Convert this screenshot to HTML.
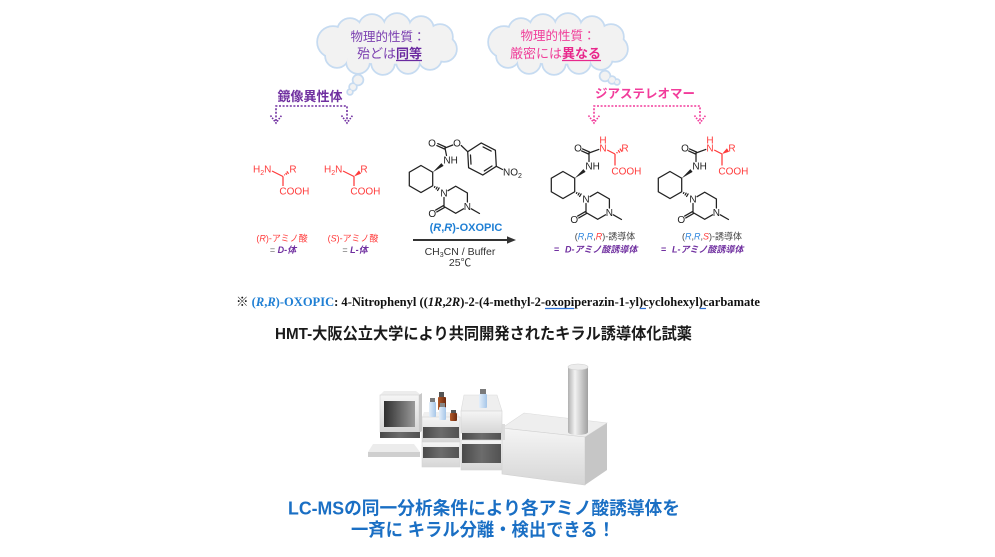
<!DOCTYPE html>
<html><head><meta charset="utf-8">
<style>
html,body{margin:0;padding:0;background:#fff;}
svg{display:block;}
text{font-family:"Liberation Sans","Noto Sans CJK JP",sans-serif;}
.sf{font-family:"Liberation Serif","Noto Serif CJK SC",serif;}
</style></head><body>
<svg width="995" height="557" viewBox="0 0 995 557" xmlns="http://www.w3.org/2000/svg">
<defs>
<g id="cl">
<ellipse cx="387" cy="44" rx="55" ry="20"/>
<circle cx="350" cy="31" r="12"/><circle cx="372" cy="28" r="13"/><circle cx="397" cy="27" r="13"/>
<circle cx="421" cy="29" r="12"/><circle cx="440" cy="37" r="12"/><circle cx="333" cy="42" r="15"/>
<circle cx="444" cy="49" r="12"/><circle cx="337" cy="56" r="11"/><circle cx="358" cy="62" r="11"/>
<circle cx="383" cy="63" r="11"/><circle cx="408" cy="62" r="11"/><circle cx="430" cy="58" r="11"/>
</g>
<linearGradient id="gF" x1="0" y1="0" x2="0" y2="1"><stop offset="0" stop-color="#f5f5f5"/><stop offset="1" stop-color="#d6d6d6"/></linearGradient>
<linearGradient id="gD" x1="0" y1="0" x2="1" y2="0"><stop offset="0" stop-color="#4a4a4a"/><stop offset="0.5" stop-color="#6c6c6c"/><stop offset="1" stop-color="#525252"/></linearGradient>
<linearGradient id="gS" x1="0" y1="0" x2="1" y2="0"><stop offset="0" stop-color="#2f2f2f"/><stop offset="1" stop-color="#9a9a9a"/></linearGradient>
<linearGradient id="gC" x1="0" y1="0" x2="1" y2="0"><stop offset="0" stop-color="#b0b0b0"/><stop offset="0.35" stop-color="#f2f2f2"/><stop offset="1" stop-color="#a0a0a0"/></linearGradient>
<linearGradient id="gBr" x1="0" y1="0" x2="1" y2="0"><stop offset="0" stop-color="#b25a2a"/><stop offset="1" stop-color="#6e2a0e"/></linearGradient>
<linearGradient id="gBl" x1="0" y1="0" x2="1" y2="0"><stop offset="0" stop-color="#e4effa"/><stop offset="1" stop-color="#a6c6e8"/></linearGradient>
</defs>

<!-- Clouds -->
<g stroke="#c6dbf1" stroke-width="3.5" fill="#c6dbf1">
<use href="#cl"/>
<use href="#cl" transform="translate(171,0)"/>
<circle cx="358" cy="80" r="4.5"/><circle cx="353" cy="87" r="3"/><circle cx="350" cy="92" r="2"/>
<circle cx="605" cy="76" r="4.5"/><circle cx="612" cy="80" r="3"/><circle cx="617" cy="82" r="2"/>
</g>
<g fill="#f2f2f2">
<use href="#cl"/>
<use href="#cl" transform="translate(171,0)"/>
<circle cx="358" cy="80" r="4.5"/><circle cx="353" cy="87" r="3"/><circle cx="350" cy="92" r="2"/>
<circle cx="605" cy="76" r="4.5"/><circle cx="612" cy="80" r="3"/><circle cx="617" cy="82" r="2"/>
</g>
<text x="388" y="41" text-anchor="middle" font-size="12.5" fill="#7b3fb0">物理的性質：</text>
<text x="357" y="58" font-size="13" fill="#7b3fb0">殆どは<tspan font-weight="bold" fill="#6a2aa0">同等</tspan></text>
<line x1="396" y1="60.5" x2="422" y2="60.5" stroke="#6a2aa0" stroke-width="1.2"/>
<text x="558" y="40" text-anchor="middle" font-size="12.5" fill="#f0409a">物理的性質：</text>
<text x="510" y="58" font-size="13" fill="#f0409a">厳密には<tspan font-weight="bold" fill="#e8288c">異なる</tspan></text>
<line x1="562" y1="60.5" x2="601" y2="60.5" stroke="#e8288c" stroke-width="1.2"/>

<!-- Bracket labels -->
<text x="310" y="101" text-anchor="middle" font-size="13" font-weight="bold" fill="#7030a0">鏡像異性体</text>
<text x="645" y="98" text-anchor="middle" font-size="12.5" font-weight="bold" fill="#f23c9b">ジアステレオマー</text>
<g fill="none" stroke-width="1.6" stroke-dasharray="2 1.6">
<path d="M276,121 V106 H347 V121" stroke="#7030a0"/>
<path d="M594,121 V106 H700 V121" stroke="#f23c9b"/>
</g>
<g fill="none" stroke-width="1.6" stroke-dasharray="1.6 1.2">
<polyline points="270.5,115.5 276,123 281.5,115.5" stroke="#7030a0"/>
<polyline points="341.5,115.5 347,123 352.5,115.5" stroke="#7030a0"/>
<polyline points="588.5,115.5 594,123 599.5,115.5" stroke="#f23c9b"/>
<polyline points="694.5,115.5 700,123 705.5,115.5" stroke="#f23c9b"/>
</g>

<!-- Amino acids -->
<g stroke="#ff3b3b" stroke-width="1.25" fill="none">
<line x1="272" y1="171" x2="283" y2="176.5"/>
<line x1="283" y1="176.5" x2="283" y2="186"/>
<line x1="284.9" y1="175.3" x2="284.3" y2="174.5"/>
<line x1="286.8" y1="174.6" x2="285.7" y2="172.9"/>
<line x1="288.6" y1="173.8" x2="286.9" y2="171.4"/>
<line x1="343" y1="171" x2="354" y2="176.5"/>
<line x1="354" y1="176.5" x2="354" y2="186"/>
</g>
<polygon fill="#ff3b3b" points="354,176.5 361.1,173.6 358.9,170.4"/>
<g font-size="10" fill="#ff3b3b">
<text x="253" y="172.6">H<tspan font-size="7" dy="2.5">2</tspan><tspan dy="-2.5">N</tspan></text>
<text x="293" y="172.6" text-anchor="middle">R</text>
<text x="279.4" y="194.6">COOH</text>
<text x="324" y="172.6">H<tspan font-size="7" dy="2.5">2</tspan><tspan dy="-2.5">N</tspan></text>
<text x="364" y="172.6" text-anchor="middle">R</text>
<text x="350.4" y="194.6">COOH</text>
</g>
<g font-size="9">
<text x="282" y="241.5" text-anchor="middle" fill="#ff3b3b">(<tspan font-style="italic">R</tspan>)-アミノ酸</text>
<text x="283" y="253" text-anchor="middle" fill="#666">= <tspan font-weight="bold" font-style="italic" fill="#7030a0">D-体</tspan></text>
<text x="353" y="241.5" text-anchor="middle" fill="#ff3b3b">(<tspan font-style="italic">S</tspan>)-アミノ酸</text>
<text x="355" y="253" text-anchor="middle" fill="#666">= <tspan font-weight="bold" font-style="italic" fill="#7030a0">L-体</tspan></text>
</g>

<!-- Reagent: common part -->
<g transform="translate(-142,-6)">
<g stroke="#222" stroke-width="1.25" fill="none" stroke-linecap="round">
<polygon points="563,171.5 574.7,178.25 574.7,191.75 563,198.5 551.3,191.75 551.3,178.25"/>
<polyline points="590,196.7 597.7,192.25 609.4,199 609.4,208"/>
<polyline points="605.5,214.8 597.7,219.25 586,212.5 586,203.5"/>
<line x1="613.3" y1="214.8" x2="621.5" y2="219.5"/>
<line x1="586.55" y1="213.45" x2="578.75" y2="217.95"/>
<line x1="585.45" y1="211.55" x2="577.65" y2="216.05"/>
<line x1="576.4" y1="193.4" x2="576.9" y2="192.5"/>
<line x1="578.1" y1="195" x2="579.1" y2="193.2"/>
<line x1="579.6" y1="196.5" x2="581.1" y2="193.9"/>
</g>
<polygon fill="#222" points="574.7,178.25 585.6,171.9 583.4,169.1"/>
<g font-size="10" fill="#222">
<text x="585.4" y="169.6">NH</text>
<text x="586" y="202.6" text-anchor="middle">N</text>
<text x="609.4" y="216.1" text-anchor="middle">N</text>
<text x="574.3" y="222.9" text-anchor="middle">O</text>
</g>
</g>
<!-- Reagent: specific -->
<g stroke="#222" stroke-width="1.25" fill="none" stroke-linecap="round">
<line x1="436.86" y1="145.6" x2="444.56" y2="149"/>
<line x1="437.74" y1="143.6" x2="445.44" y2="147"/>
<line x1="445" y1="148" x2="452.8" y2="145"/>
<line x1="445" y1="148" x2="446.5" y2="155.5"/>
<line x1="461.2" y1="145.5" x2="467.7" y2="151.7"/>
<polygon points="496.3,166.3 482.8,175 468.6,167.7 467.7,151.7 481.2,143 495.4,150.3"/>
<line x1="491.96" y1="165.97" x2="484.29" y2="170.93"/>
<line x1="471" y1="164.12" x2="470.49" y2="155.02"/>
<line x1="483.08" y1="146.89" x2="491.16" y2="151.04"/>
<line x1="496.3" y1="166.3" x2="502.5" y2="169.5"/>
</g>
<g font-size="10" fill="#222">
<text x="432" y="146.6" text-anchor="middle">O</text>
<text x="457" y="146.6" text-anchor="middle">O</text>
<text x="503" y="175.6">NO<tspan font-size="7" dy="2.5">2</tspan></text>
</g>

<!-- Arrow and conditions -->
<line x1="413" y1="240" x2="509" y2="240" stroke="#333" stroke-width="2"/>
<polygon points="516,240 507,236.3 507,243.7" fill="#333"/>
<text x="466" y="231" text-anchor="middle" font-size="11" font-weight="bold" fill="#1f7fd4">(<tspan font-style="italic">R</tspan>,<tspan font-style="italic">R</tspan>)-OXOPIC</text>
<text x="460" y="255" text-anchor="middle" font-size="10.5" fill="#333">CH<tspan font-size="7" dy="2">3</tspan><tspan dy="-2">CN / Buffer</tspan></text>
<text x="460" y="266" text-anchor="middle" font-size="10.5" fill="#333">25℃</text>

<!-- Product 1 -->
<g>
<g stroke="#222" stroke-width="1.25" fill="none" stroke-linecap="round">
<polygon points="563,171.5 574.7,178.25 574.7,191.75 563,198.5 551.3,191.75 551.3,178.25"/>
<polyline points="590,196.7 597.7,192.25 609.4,199 609.4,208"/>
<polyline points="605.5,214.8 597.7,219.25 586,212.5 586,203.5"/>
<line x1="613.3" y1="214.8" x2="621.5" y2="219.5"/>
<line x1="586.55" y1="213.45" x2="578.75" y2="217.95"/>
<line x1="585.45" y1="211.55" x2="577.65" y2="216.05"/>
<line x1="576.4" y1="193.4" x2="576.9" y2="192.5"/>
<line x1="578.1" y1="195" x2="579.1" y2="193.2"/>
<line x1="579.6" y1="196.5" x2="581.1" y2="193.9"/>
<line x1="581.64" y1="150.9" x2="588.54" y2="154"/>
<line x1="582.56" y1="148.9" x2="589.46" y2="152"/>
<line x1="589" y1="153" x2="589" y2="161.5"/>
<line x1="589" y1="153" x2="598.8" y2="149.4"/>
</g>
<g stroke="#ff3b3b" stroke-width="1.25" fill="none">
<line x1="607.2" y1="150" x2="615" y2="154"/>
<line x1="615" y1="154" x2="615" y2="165.5"/>
<line x1="617.4" y1="153.3" x2="616.6" y2="152.1"/>
<line x1="619.8" y1="152.6" x2="618.2" y2="150.2"/>
<line x1="621.9" y1="151.6" x2="619.9" y2="148.6"/>
</g>
<polygon fill="#222" points="574.7,178.25 585.6,171.9 583.4,169.1"/>
<g font-size="10" fill="#222">
<text x="585.4" y="169.6">NH</text>
<text x="586" y="202.6" text-anchor="middle">N</text>
<text x="609.4" y="216.1" text-anchor="middle">N</text>
<text x="574.3" y="222.9" text-anchor="middle">O</text>
<text x="578" y="151.6" text-anchor="middle">O</text>
</g>
<g font-size="10" fill="#ff3b3b">
<text x="603" y="143.6" text-anchor="middle">H</text>
<text x="603" y="151.6" text-anchor="middle">N</text>
<text x="625" y="151.6" text-anchor="middle">R</text>
<text x="611.4" y="174.6">COOH</text>
</g>
</g>
<!-- Product 2 -->
<g transform="translate(107,0)">
<g stroke="#222" stroke-width="1.25" fill="none" stroke-linecap="round">
<polygon points="563,171.5 574.7,178.25 574.7,191.75 563,198.5 551.3,191.75 551.3,178.25"/>
<polyline points="590,196.7 597.7,192.25 609.4,199 609.4,208"/>
<polyline points="605.5,214.8 597.7,219.25 586,212.5 586,203.5"/>
<line x1="613.3" y1="214.8" x2="621.5" y2="219.5"/>
<line x1="586.55" y1="213.45" x2="578.75" y2="217.95"/>
<line x1="585.45" y1="211.55" x2="577.65" y2="216.05"/>
<line x1="576.4" y1="193.4" x2="576.9" y2="192.5"/>
<line x1="578.1" y1="195" x2="579.1" y2="193.2"/>
<line x1="579.6" y1="196.5" x2="581.1" y2="193.9"/>
<line x1="581.64" y1="150.9" x2="588.54" y2="154"/>
<line x1="582.56" y1="148.9" x2="589.46" y2="152"/>
<line x1="589" y1="153" x2="589" y2="161.5"/>
<line x1="589" y1="153" x2="598.8" y2="149.4"/>
</g>
<g stroke="#ff3b3b" stroke-width="1.25" fill="none">
<line x1="607.2" y1="150" x2="615" y2="154"/>
<line x1="615" y1="154" x2="615" y2="165.5"/>
</g>
<polygon fill="#222" points="574.7,178.25 585.6,171.9 583.4,169.1"/>
<polygon fill="#ff3b3b" points="615,154 622.1,151.7 619.9,148.3"/>
<g font-size="10" fill="#222">
<text x="585.4" y="169.6">NH</text>
<text x="586" y="202.6" text-anchor="middle">N</text>
<text x="609.4" y="216.1" text-anchor="middle">N</text>
<text x="574.3" y="222.9" text-anchor="middle">O</text>
<text x="578" y="151.6" text-anchor="middle">O</text>
</g>
<g font-size="10" fill="#ff3b3b">
<text x="603" y="143.6" text-anchor="middle">H</text>
<text x="603" y="151.6" text-anchor="middle">N</text>
<text x="625" y="151.6" text-anchor="middle">R</text>
<text x="611.4" y="174.6">COOH</text>
</g>
</g>
<g font-size="9">
<text x="605" y="239.5" text-anchor="middle" fill="#444">(<tspan font-style="italic" fill="#2e86de">R</tspan>,<tspan font-style="italic" fill="#2e86de">R</tspan>,<tspan font-style="italic" fill="#ff3b3b">R</tspan>)-誘導体</text>
<text x="712" y="239.5" text-anchor="middle" fill="#444">(<tspan font-style="italic" fill="#2e86de">R</tspan>,<tspan font-style="italic" fill="#2e86de">R</tspan>,<tspan font-style="italic" fill="#ff3b3b">S</tspan>)-誘導体</text>
<g font-weight="bold" fill="#7030a0">
<text x="554" y="252.5">=</text>
<text x="565" y="252.5" font-style="italic">D-アミノ酸誘導体</text>
<text x="661" y="252.5">=</text>
<text x="672" y="252.5" font-style="italic">L-アミノ酸誘導体</text>
</g>
</g>

<!-- Footnote -->
<text class="sf" x="236" y="306" font-size="12.5" font-weight="bold" fill="#111" textLength="524" lengthAdjust="spacingAndGlyphs">※ <tspan fill="#1f7fd4">(<tspan font-style="italic">R</tspan>,<tspan font-style="italic">R</tspan>)-OXOPIC</tspan>: 4-Nitrophenyl ((<tspan font-style="italic">1R</tspan>,<tspan font-style="italic">2R</tspan>)-2-(4-methyl-2-oxopiperazin-1-yl)cyclohexyl)carbamate</text>
<g stroke="#2a6fd6" stroke-width="1.2">
<line x1="545" y1="308.5" x2="574" y2="308.5"/>
<line x1="640" y1="308.5" x2="646" y2="308.5"/>
<line x1="700" y1="308.5" x2="706" y2="308.5"/>
</g>

<!-- HMT line -->
<text x="275" y="339" font-size="16" font-weight="bold" fill="#1a1a1a" textLength="417" lengthAdjust="spacingAndGlyphs">HMT-大阪公立大学により共同開発されたキラル誘導体化試薬</text>

<!-- Instrument -->
<polygon points="502,428 524,413 607,423 585,437" fill="#eeeeee" stroke="#dcdcdc" stroke-width="0.6"/>
<polygon points="502,428 585,437 585,485 502,474" fill="url(#gF)" stroke="#d0d0d0" stroke-width="0.6"/>
<polygon points="585,437 607,423 607,470 585,485" fill="#c6c6c6"/>
<rect x="568" y="367" width="20" height="65" fill="url(#gC)"/>
<ellipse cx="578" cy="432" rx="10" ry="3" fill="url(#gC)"/>
<ellipse cx="578" cy="367" rx="10" ry="3" fill="#ececec" stroke="#cfcfcf" stroke-width="0.6"/>
<rect x="499" y="424" width="6" height="16" fill="#dcdcdc"/>
<polygon points="464,395 497,395 502,411 461,411" fill="#efefef" stroke="#dcdcdc" stroke-width="0.6"/>
<rect x="461" y="411" width="41" height="22" fill="url(#gF)" stroke="#d4d4d4" stroke-width="0.6"/>
<rect x="462" y="433" width="39" height="7" fill="url(#gD)"/>
<rect x="461" y="440" width="41" height="30" fill="url(#gF)" stroke="#d4d4d4" stroke-width="0.6"/>
<rect x="462" y="444" width="39" height="19" fill="url(#gD)"/>
<polygon points="424,412 457,412 460,417 422,417" fill="#f0f0f0"/>
<rect x="422" y="417" width="38" height="25" fill="url(#gF)" stroke="#d4d4d4" stroke-width="0.6"/>
<rect x="423" y="427" width="36" height="11" fill="url(#gD)"/>
<rect x="422" y="442" width="38" height="25" fill="url(#gF)" stroke="#d4d4d4" stroke-width="0.6"/>
<rect x="423" y="447" width="36" height="11" fill="url(#gD)"/>
<polygon points="384,391 416,391 421,395 380,395" fill="#ececec"/>
<rect x="380" y="395" width="39" height="37" fill="url(#gF)" stroke="#d4d4d4" stroke-width="0.6"/>
<polygon points="419,395 422,393 422,431 419,433" fill="#c8c8c8"/>
<rect x="384" y="401" width="31" height="26" fill="url(#gS)"/>
<rect x="380" y="432" width="40" height="6" fill="url(#gD)"/>
<polygon points="373,444 414,444 420,452 368,452" fill="#ececec"/>
<rect x="368" y="452" width="52" height="5" fill="#cfcfcf"/>
<!-- bottles -->
<rect x="430" y="398" width="5" height="4" fill="#7a7a7a"/>
<rect x="429" y="402" width="7" height="15" rx="1" fill="url(#gBl)"/>
<rect x="439" y="392" width="5" height="5" fill="#555"/>
<rect x="438" y="397" width="8" height="13" rx="1" fill="url(#gBr)"/>
<rect x="440" y="403" width="5" height="4" fill="#888"/>
<rect x="439" y="407" width="7" height="13" rx="1" fill="url(#gBl)"/>
<rect x="451" y="410" width="5" height="3" fill="#555"/>
<rect x="450" y="413" width="7" height="8" rx="1" fill="url(#gBr)"/>
<rect x="480" y="389" width="6" height="5" fill="#7a7a7a"/>
<rect x="479" y="394" width="8" height="14" rx="1" fill="url(#gBl)"/>

<!-- Bottom text -->
<text x="288" y="514.5" font-size="18" font-weight="bold" fill="#1a6fc4" textLength="392" lengthAdjust="spacingAndGlyphs">LC-MSの同一分析条件により各アミノ酸誘導体を</text>
<text x="351" y="536" font-size="18" font-weight="bold" fill="#1a6fc4" textLength="264" lengthAdjust="spacingAndGlyphs">一斉に キラル分離・検出できる！</text>
</svg>
</body></html>
